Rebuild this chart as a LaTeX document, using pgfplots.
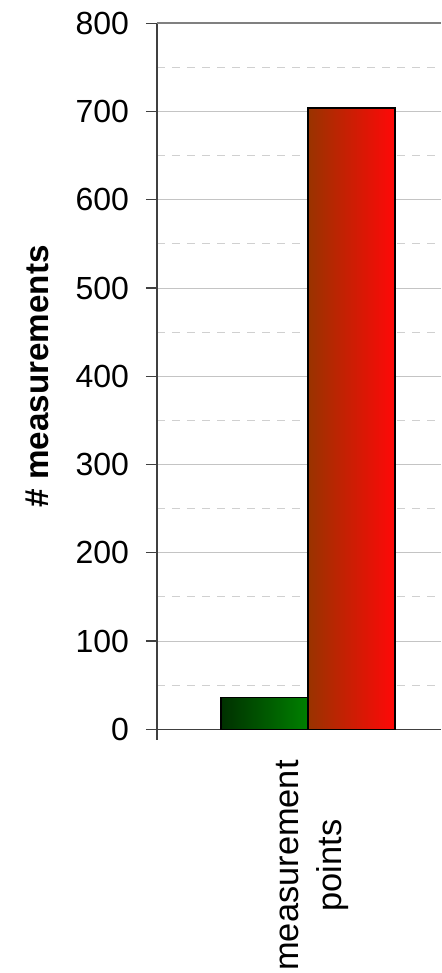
\documentclass[border=0pt]{standalone}
\usepackage{pgfplots}
\pgfplotsset{compat=1.18}
\usepackage{fontspec}
\setmainfont{Liberation Sans}
\definecolor{axisc}{HTML}{404040}
\definecolor{majg}{HTML}{C4C4C4}
\definecolor{ming}{HTML}{D0D0D0}
\begin{document}
\begin{tikzpicture}
\begin{axis}[
  at={(0,0)}, anchor=south west,
  scale only axis,
  width=142pt, height=353pt,
  xmin=0, xmax=284,
  ymin=0, ymax=800,
  axis lines*=left,
  axis line style={axisc, line width=0.6pt},
  ytick={0,100,...,800},
  minor y tick num=1,
  ymajorgrids, yminorgrids,
  major grid style={majg, line width=0.5pt},
  minor grid style={ming, line width=0.5pt, dash pattern=on 4pt off 3.5pt},
  minor tick length=0pt,
  tick align=outside,
  major tick length=5.5pt,
  tick style={axisc, line width=0.6pt},
  /pgf/number format/assume math mode=true,
  xtick={155},
  xticklabels={measurement\\points},
  x tick style={draw=none},
  x tick label style={rotate=90, anchor=east, align=center, xshift=-6.5pt,
    font=\fontsize{17.2}{21.5}\selectfont},
  y tick label style={font=\fontsize{16}{18}\selectfont, xshift=-5pt},
  ylabel={\# measurements},
  ylabel style={at={(axis description cs:-0.42,0.5)}, anchor=center,
    font=\bfseries\fontsize{16.6}{18}\selectfont},
  clip=false,
]
\addplot[ybar, bar shift=0pt, bar width=87.3, draw=black, line width=0.8pt,
  left color={rgb,255:red,0;green,48;blue,0}, right color={rgb,255:red,0;green,128;blue,0}]
  coordinates {(107.35,36)};
\addplot[ybar, bar shift=0pt, bar width=86.7, draw=black, line width=0.8pt,
  left color={rgb,255:red,153;green,51;blue,0}, right color={rgb,255:red,255;green,8;blue,8}]
  coordinates {(194.35,704)};
\draw[gray, line width=1pt] (rel axis cs:0,1) -- (rel axis cs:1,1);
\draw[axisc, line width=0.6pt] (rel axis cs:0,0) -- ++(0,-5.5pt);
\end{axis}
\pgfresetboundingbox
\path[use as bounding box] (-78.5pt,-121.85pt) rectangle (142pt,364.65pt);
\end{tikzpicture}
\end{document}
